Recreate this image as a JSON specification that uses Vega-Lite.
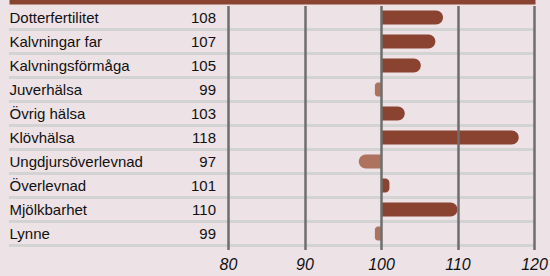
{
  "$schema": "https://vega.github.io/schema/vega-lite/v6.json",
  "width": 526,
  "height": 240,
  "autosize": {"type": "none"},
  "padding": {"left": 9, "top": 5.5, "right": 15, "bottom": 30.5},
  "background": "#ede2e5",
  "config": {"view": {"stroke": null}, "font": "Liberation Sans"},
  "data": {
    "values": [
      {"trait": "Dotterfertilitet", "value": 108.1},
      {"trait": "Kalvningar far", "value": 107.1},
      {"trait": "Kalvningsförmåga", "value": 105.2},
      {"trait": "Juverhälsa", "value": 99.2},
      {"trait": "Övrig hälsa", "value": 103.1},
      {"trait": "Klövhälsa", "value": 118.0},
      {"trait": "Ungdjursöverlevnad", "value": 97.1},
      {"trait": "Överlevnad", "value": 101.1},
      {"trait": "Mjölkbarhet", "value": 110.0},
      {"trait": "Lynne", "value": 99.2}
    ]
  },
  "encoding": {
    "y": {
      "field": "trait",
      "type": "nominal",
      "sort": null,
      "scale": {"paddingInner": 0, "paddingOuter": 0},
      "axis": {
        "orient": "left",
        "title": null,
        "domain": false,
        "ticks": false,
        "tickSize": 0,
        "labelPadding": 0,
        "labelAlign": "left",
        "labelBaseline": "middle",
        "labelFontSize": 15,
        "labelColor": "#111111",
        "labelLimit": 300,
        "grid": false
      }
    }
  },
  "resolve": {"axis": {"x": "independent"}},
  "layer": [
    {
      "mark": {"type": "rule", "color": "#d3d3d3", "strokeWidth": 3},
      "encoding": {
        "y": {"field": "trait", "type": "nominal", "sort": null, "bandPosition": 1},
        "x": {
          "datum": 51.37,
          "type": "quantitative",
          "scale": {"domain": [51.37, 120.13], "nice": false, "zero": false},
          "axis": {
            "orient": "bottom",
            "values": [80, 90, 100, 110, 120],
            "title": null,
            "domain": false,
            "grid": true,
            "gridColor": "#6e6e6e",
            "gridWidth": 2.5,
            "gridOpacity": 1,
            "ticks": true,
            "tickSize": 4,
            "tickColor": "#6e6e6e",
            "tickWidth": 2.5,
            "labelFontSize": 16,
            "labelFontStyle": "italic",
            "labelColor": "#111111",
            "labelPadding": 7,
            "labelFlush": false,
            "zindex": 1
          }
        },
        "x2": {"datum": 120.13}
      }
    },
    {
      "transform": [{"filter": "datum.value >= 100"}],
      "mark": {"type": "bar", "color": "#8b4331", "height": 14, "cornerRadiusTopRight": 7, "cornerRadiusBottomRight": 7},
      "encoding": {
        "x": {
          "field": "value",
          "type": "quantitative",
          "axis": {
            "orient": "top",
            "title": null,
            "labels": false,
            "ticks": false,
            "grid": false,
            "domain": true,
            "domainColor": "#8b4331",
            "domainWidth": 8,
            "offset": 5.5
          }
        },
        "x2": {"datum": 100}
      }
    },
    {
      "transform": [{"filter": "datum.value < 100"}],
      "mark": {"type": "bar", "color": "#ae735f", "height": 14, "cornerRadiusTopLeft": 7, "cornerRadiusBottomLeft": 7},
      "encoding": {
        "x": {"field": "value", "type": "quantitative", "axis": null},
        "x2": {"datum": 100}
      }
    },
    {
      "mark": {"type": "text", "align": "right", "baseline": "middle", "dx": -12, "fontSize": 15, "color": "#111111"},
      "encoding": {
        "x": {"datum": 80, "type": "quantitative", "axis": null},
        "text": {"field": "value", "type": "quantitative", "format": ".0f"}
      }
    }
  ]
}
